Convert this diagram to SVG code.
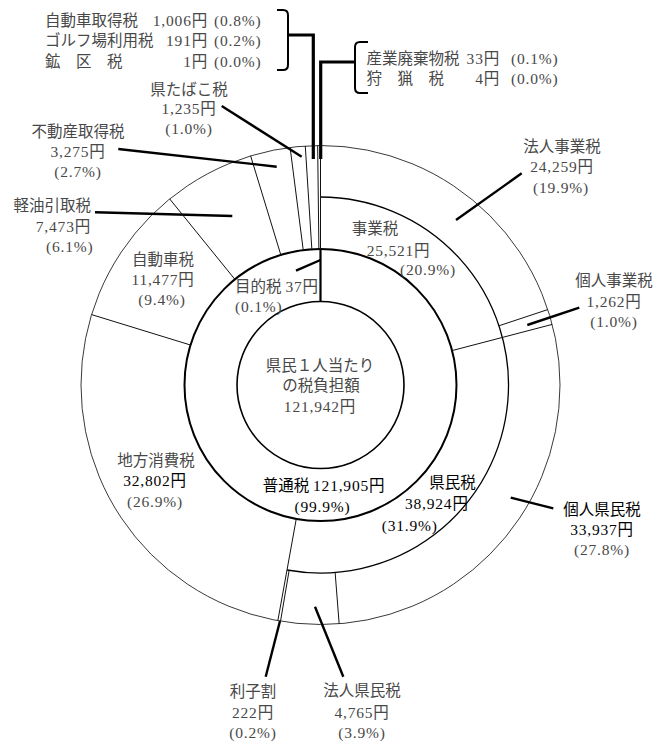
<svg xmlns="http://www.w3.org/2000/svg" width="657" height="742" viewBox="0 0 657 742">
<style>
.t{font-family:"Liberation Serif","Noto Sans CJK JP",serif;font-size:15.5px;fill:#484848}
.k{fill:#000}
.m{text-anchor:middle}
.e{text-anchor:end}
.n{letter-spacing:0.8px}
.thin{fill:none;stroke:#222;stroke-width:0.9}
.sec{fill:none;stroke:#111;stroke-width:1}
.ld{fill:none;stroke:#000;stroke-width:2.4}
.br{fill:none;stroke:#000;stroke-width:3.2}
.bk{fill:none;stroke:#000;stroke-width:2}
</style>
<rect width="657" height="742" fill="#fff"/>
<g id="rings">
<circle cx="320.5" cy="385" r="239.5" class="thin"/>
<path d="M320.5,197 A188,188 0 1 1 287.01,569.99" fill="none" stroke="#000" stroke-width="1.3"/>
<circle cx="320.5" cy="385" r="136" fill="none" stroke="#000" stroke-width="2"/>
<circle cx="320.5" cy="385" r="83.5" fill="none" stroke="#000" stroke-width="1.6"/>
</g>
<g id="boundaries">
<path class="sec" d="M320.5,145.5 V249"/>
<path fill="none" stroke="#000" stroke-width="2.2" d="M320.5,249 V301.5"/>
<path class="sec" d="M498.93,325.79 L547.81,309.57"/>
<path class="sec" d="M452.08,350.59 L552.21,324.40"/>
<path class="sec" d="M335.14,572.43 L339.15,623.77"/>
<path class="sec" d="M289.14,570.37 L280.54,621.14"/>
<path class="sec" d="M296.28,518.83 L277.84,620.67"/>
<path class="sec" d="M190.51,345.02 L91.58,314.60"/>
<path class="sec" d="M234.87,279.34 L169.70,198.94"/>
<path class="sec" d="M280.83,254.91 L250.64,155.92"/>
<path class="sec" d="M303.24,250.10 L290.10,147.44"/>
<path class="sec" d="M311.85,249.27 L305.27,145.98"/>
<path class="sec" d="M318.90,249.01 L317.67,145.52"/>
</g>
<g id="connectors">
<path class="ld" d="M221.7,106 L301.7,156.7"/>
<path class="ld" d="M118.3,149 L276.7,166.7"/>
<path class="ld" d="M95,212.3 L232.3,216"/>
<path class="ld" d="M296,270.7 L320.5,260"/>
<path class="ld" d="M521.7,173.3 L456,220"/>
<path class="ld" d="M579.3,307.7 L527.3,325"/>
<path class="ld" d="M510.7,497.7 L553.3,508.3"/>
<path class="ld" d="M315,606.7 L343.3,676.7"/>
<path class="ld" d="M280,621 L265.7,676.7"/>
<path class="br" d="M288,35 H313.3 V159"/>
<path class="br" d="M355,62 H320.7 V159"/>
<path class="bk" d="M277,10 H283 Q288,10 288,15 V65 Q288,70 283,70 H277"/>
<path class="bk" d="M368,42 H360 Q355,42 355,47 V88 Q355,93 360,93 H368"/>
</g>
<g id="minor-left" class="t">
<text x="45" y="25.5">自動車取得税</text>
<text x="208" y="25.5" class="e n">1,006円</text>
<text x="214" y="25.5" class="n">(0.8%)</text>
<text x="45" y="46">ゴルフ場利用税</text>
<text x="208" y="46" class="e n">191円</text>
<text x="214" y="46" class="n">(0.2%)</text>
<text x="45" y="66.5">鉱　区　税</text>
<text x="208" y="66.5" class="e n">1円</text>
<text x="214" y="66.5" class="n">(0.0%)</text>
</g>
<g id="minor-right" class="t">
<text x="366.5" y="64">産業廃棄物税</text>
<text x="500" y="64" class="e n">33円</text>
<text x="511" y="64" class="n">(0.1%)</text>
<text x="366.5" y="84">狩　猟　税</text>
<text x="500" y="84" class="e n">4円</text>
<text x="511" y="84" class="n">(0.0%)</text>
</g>
<g id="tabako" class="t m">
<text x="189" y="94.5">県たばこ税</text>
<text x="189" y="114" class="n">1,235円</text>
<text x="189" y="133.5" class="n">(1.0%)</text>
</g>
<g id="fudosan" class="t m">
<text x="78" y="137">不動産取得税</text>
<text x="78" y="157" class="n">3,275円</text>
<text x="78" y="177" class="n">(2.7%)</text>
</g>
<g id="keiyu" class="t e">
<text x="91" y="210.5">軽油引取税</text>
<text x="91" y="232" class="n">7,473円</text>
<text x="93.5" y="252" class="n">(6.1%)</text>
</g>
<g id="jidosha" class="t m">
<text x="163" y="264.5">自動車税</text>
<text x="163" y="285" class="n">11,477円</text>
<text x="162" y="305" class="n">(9.4%)</text>
</g>
<g id="mokuteki" class="t">
<text x="235" y="292">目的税 <tspan class="n">37円</tspan></text>
<text x="235" y="312" class="n">(0.1%)</text>
</g>
<g id="center" class="t m">
<text x="320" y="370.5">県民１人当たり</text>
<text x="321" y="390.5">の税負担額</text>
<text x="320" y="411.5" class="n">121,942円</text>
</g>
<g id="jigyo" class="t">
<text x="351.7" y="234">事業税</text>
<text x="366.7" y="255.5" class="n">25,521円</text>
<text x="400" y="275" class="n">(20.9%)</text>
</g>
<g id="hojin-jigyo" class="t m">
<text x="562" y="152">法人事業税</text>
<text x="562" y="172" class="n">24,259円</text>
<text x="561" y="193" class="n">(19.9%)</text>
</g>
<g id="kojin-jigyo" class="t m">
<text x="614" y="285.5">個人事業税</text>
<text x="614" y="307" class="n">1,262円</text>
<text x="614" y="327" class="n">(1.0%)</text>
</g>
<g id="futsu" class="t m k">
<text x="324" y="491" class="k">普通税 <tspan class="n">121,905円</tspan></text>
<text x="322.5" y="512" class="n k">(99.9%)</text>
</g>
<g id="kenmin" class="t">
<text x="429.3" y="488" class="k">県民税</text>
<text x="405" y="509" class="n k">38,924円</text>
<text x="381.7" y="530.5" class="n k">(31.9%)</text>
</g>
<g id="chiho-shohi" class="t m">
<text x="156" y="465.5">地方消費税</text>
<text x="155" y="485.5" class="n k">32,802円</text>
<text x="155" y="506.5" class="n">(26.9%)</text>
</g>
<g id="kojin-kenmin" class="t m">
<text x="602" y="515" class="k">個人県民税</text>
<text x="602" y="534.5" class="n k">33,937円</text>
<text x="602" y="555" class="n">(27.8%)</text>
</g>
<g id="rishiwari" class="t m">
<text x="253" y="697">利子割</text>
<text x="253" y="718" class="n">222円</text>
<text x="253" y="738" class="n">(0.2%)</text>
</g>
<g id="hojin-kenmin" class="t m">
<text x="362" y="696">法人県民税</text>
<text x="362" y="717.5" class="n">4,765円</text>
<text x="362" y="737.5" class="n">(3.9%)</text>
</g>
</svg>
